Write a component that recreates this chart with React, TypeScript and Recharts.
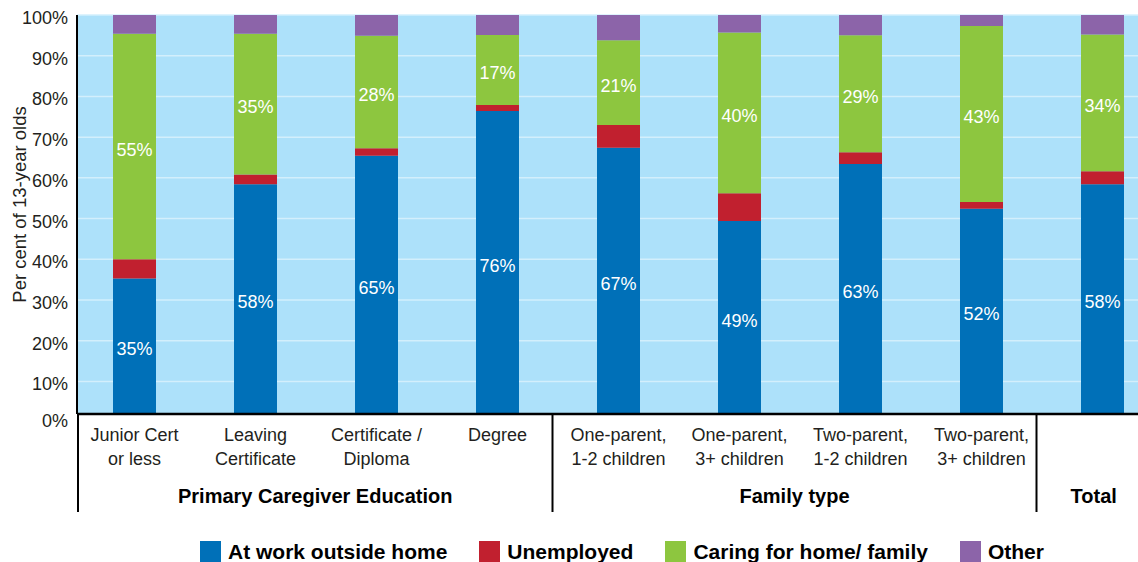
import React from 'react';
import { BarChart, Bar, XAxis, YAxis, CartesianGrid, LabelList } from 'recharts';

// ---------- data ----------
const categories = [
  'Junior Cert\nor less',
  'Leaving\nCertificate',
  'Certificate /\nDiploma',
  'Degree',
  'One-parent,\n1-2 children',
  'One-parent,\n3+ children',
  'Two-parent,\n1-2 children',
  'Two-parent,\n3+ children',
  'Total',
];
const showCategoryLabel = [true, true, true, true, true, true, true, true, false];
const groupNames = ['Primary Caregiver Education', 'Family type', 'Total'];
const groupSizes = [4, 4, 1];

const atWork = [35.3, 58.4, 65.4, 76.4, 67.4, 49.4, 63.4, 52.4, 58.4];
const unemployed = [4.7, 2.4, 1.9, 1.5, 5.6, 6.8, 2.9, 1.7, 3.2];
const caring = [55.4, 34.6, 27.6, 17.2, 20.8, 39.5, 28.7, 43.2, 33.6];
const other = [4.6, 4.6, 5.1, 4.9, 6.2, 4.3, 5.0, 2.7, 4.8];

const yTicks = [2, 10, 20, 30, 40, 50, 60, 70, 80, 90, 100];

const seriesKeys = ['atWork', 'unemployed', 'caring', 'other'];
const seriesNames = ['At work outside home', 'Unemployed', 'Caring for home/ family', 'Other'];
const seriesColors = ['#0070B8', '#C1202F', '#8DC63F', '#8C64A9'];
const seriesLabelled = [true, false, true, false];

const data = categories.map((c, i) => ({
  cat: c,
  atWork: atWork[i],
  unemployed: unemployed[i],
  caring: caring[i],
  other: other[i],
}));

// ---------- layout ----------
const FONT = '"Liberation Sans", Arial, Helvetica, sans-serif';
const TEXT = '#231F20';
const CHART_W = 1170;
const CHART_H = 520;
const MARGIN = { top: 15, right: 7, left: 0, bottom: 0 };
const Y_W = 77;
const X_H = 106;
const PAD_L = -3;
const PLOT_LEFT = MARGIN.left + Y_W;
const PLOT_RIGHT = CHART_W - MARGIN.right;
const BAND = (PLOT_RIGHT - PLOT_LEFT - PAD_L) / categories.length;
const SEP_OFF = 66;

const groupStart: number[] = [];
{
  let s = 0;
  groupSizes.forEach((n) => {
    groupStart.push(s);
    s += n;
  });
}

const CategoryTick = (props: any) => {
  const { x, y, payload } = props;
  const idx = categories.indexOf(payload.value);
  const lines = String(payload.value).split('\n');
  const els: any[] = [];
  if (showCategoryLabel[idx]) {
    lines.forEach((ln, k) => {
      els.push(
        <text key={'l' + k} x={x} y={y + 21 + k * 24} textAnchor="middle" dominantBaseline="central"
          fontSize={18} fill={TEXT} fontFamily={FONT}>{ln}</text>
      );
    });
  }
  const g = groupStart.indexOf(idx);
  if (g >= 0) {
    const left = g === 0 ? PLOT_LEFT + 1 : x - SEP_OFF;
    const right = g === groupSizes.length - 1 ? PLOT_RIGHT - 12 : x + groupSizes[g] * BAND - SEP_OFF;
    els.push(<line key="sep" x1={left} x2={left} y1={y} y2={y + 98} stroke="#000" strokeWidth={2} />);
    els.push(
      <text key="g" x={(left + right) / 2} y={y + 82} textAnchor="middle" dominantBaseline="central"
        fontSize={20} fontWeight="bold" fill="#000" fontFamily={FONT}>{groupNames[g]}</text>
    );
  }
  return <g>{els}</g>;
};

const YTick = (props: any) => {
  const { x, y, payload } = props;
  const v = payload.value;
  const label = (v === 2 ? 0 : v) + '%';
  return (
    <text x={x - 1} y={y + (v === 2 ? 7 : 3)} textAnchor="end" dominantBaseline="central" fontSize={18}
      fill={TEXT} fontFamily={FONT}>{label}</text>
  );
};

const ValueLabel = (props: any) => {
  const { x, y, width, height, value } = props;
  return (
    <text x={x + width / 2} y={y + height / 2 + 3} textAnchor="middle" dominantBaseline="central"
      fontSize={18} fill="#FFFFFF" fontFamily={FONT}>{Math.round(value) + '%'}</text>
  );
};

const YTitle = (props: any) => {
  const vb = props.viewBox || {};
  const cy = (vb.y || 0) + (vb.height || 0) / 2 - 10;
  return (
    <text x={19} y={cy} transform={`rotate(-90 19 ${cy})`} textAnchor="middle" dominantBaseline="central"
      fontSize={18.5} fill={TEXT} fontFamily={FONT}>Per cent of 13-year olds</text>
  );
};

export default function App() {
  return (
    <div style={{ position: 'absolute', left: 0, top: 0, width: 1138, height: 562, overflow: 'hidden', background: '#fff', fontFamily: FONT }}>
      <BarChart width={CHART_W} height={CHART_H} data={data} margin={MARGIN} barSize={43}>
        <CartesianGrid vertical={false} horizontal={true} fill="#ADE1FA" stroke="#D3EFFC" strokeWidth={1.5} fillOpacity={1} />
        <XAxis dataKey="cat" type="category" height={X_H} interval={0} tickLine={false} tickSize={0} tickMargin={0}
          padding={{ left: PAD_L, right: 0 }}
          axisLine={{ stroke: '#000', strokeWidth: 2.5 }} tick={<CategoryTick />} />
        <YAxis type="number" domain={[2, 100]} allowDataOverflow ticks={yTicks} width={Y_W} tickLine={false} tickSize={0} tickMargin={8}
          axisLine={{ stroke: '#000', strokeWidth: 2 }} tick={<YTick />} label={<YTitle />} />
        {seriesKeys.map((k, i) => (
          <Bar key={k} dataKey={k} name={seriesNames[i]} stackId="a" fill={seriesColors[i]} isAnimationActive={false}>
            {seriesLabelled[i] ? <LabelList dataKey={k} content={<ValueLabel />} /> : null}
          </Bar>
        ))}
      </BarChart>
      <div style={{ position: 'absolute', left: 200, top: 541, display: 'flex', alignItems: 'center' }}>
        {seriesNames.map((n, i) => (
          <div key={n} style={{ display: 'flex', alignItems: 'center', marginRight: 32 }}>
            <div style={{ width: 21, height: 21, background: seriesColors[i], marginRight: 7 }} />
            <span style={{ fontSize: 21, fontWeight: 'bold', color: '#000', fontFamily: FONT, lineHeight: '21px' }}>{n}</span>
          </div>
        ))}
      </div>
    </div>
  );
}
